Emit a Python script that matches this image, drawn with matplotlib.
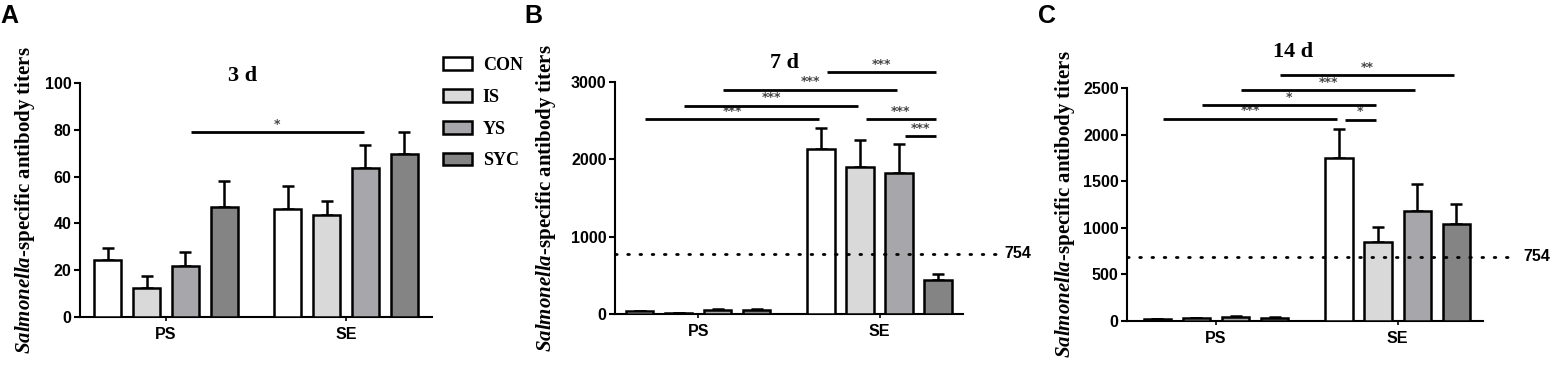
import matplotlib.pyplot as plt
import numpy as np
from matplotlib.patches import Patch

plt.rcParams['mathtext.fontset'] = 'custom'
plt.rcParams['mathtext.it'] = 'Liberation Serif:italic:bold'
plt.rcParams['mathtext.rm'] = 'Liberation Serif:bold'

groups = ['PS', 'SE']
treatments = ['CON', 'IS', 'YS', 'SYC']
colors = ['#ffffff', '#d9d9d9', '#a7a7ab', '#848484']

# panel A, 3 d
a_mean = [[24.3, 12.6, 21.9, 46.9], [46.0, 43.6, 63.6, 69.7]]
a_err = [[5.0, 4.8, 5.7, 11.2], [10.0, 6.0, 9.7, 9.2]]
a_sig = [(0, 2, 1, 2, 79, '*')]

# panel B, 7 d
b_mean = [[34, 13, 56, 56], [2140, 1895, 1818, 443]]
b_err = [[8, 4, 10, 10], [271, 357, 378, 77]]
b_sig = [(0, 0, 1, 0, 2518, '***'), (0, 1, 1, 1, 2694, '***'),
         (0, 2, 1, 2, 2901, '***'), (1, 0, 1, 3, 3128, '***'),
         (1, 1, 1, 3, 2518, '***'), (1, 2, 1, 3, 2299, '***')]
b_cut = 776

# panel C, 14 d
c_mean = [[20, 28, 43, 36], [1748, 852, 1182, 1042]]
c_err = [[5, 6, 8, 6], [311, 154, 290, 212]]
c_sig = [(0, 3, 1, 3, 2636, '**'), (0, 2, 1, 2, 2475, '***'),
         (0, 1, 1, 1, 2317, '*'), (0, 0, 1, 0, 2170, '***'),
         (1, 0, 1, 1, 2160, '*')]
c_cut = 687
cut_label = '754'

step = 0.215
width = 0.15
offsets = (np.arange(4) - 1.5) * step

fig = plt.figure(figsize=(15.53, 3.70), dpi=100)

def panel(rect, means, errs, sigs, ymax, yticks, xlim, title, title_xy,
          letter, letter_x, ylab_x, cut=None):
    ax = fig.add_axes(rect)
    for i, t in enumerate(treatments):
        xs = np.arange(2) + offsets[i]
        m = [means[0][i], means[1][i]]
        e = [errs[0][i], errs[1][i]]
        ax.errorbar(xs, m, yerr=[[0, 0], e], fmt='none', ecolor='black',
                    elinewidth=1.8, capsize=4.5, capthick=1.8, zorder=2)
        ax.bar(xs, m, width, color=colors[i], edgecolor='black',
               linewidth=1.8, zorder=3)
    for g1, b1, g2, b2, y, s in sigs:
        x1 = g1 + offsets[b1] + 0.03
        x2 = g2 + offsets[b2] - 0.01
        ax.plot([x1, x2], [y, y], color='black', lw=2, clip_on=False,
                solid_capstyle='butt', zorder=4)
        ax.text((x1 + x2) / 2, y + ymax * 0.006, s, ha='center', va='bottom',
                fontsize=9, color='#444444', fontweight='bold')
    if cut is not None:
        ax.plot([xlim[0], 1.64], [cut, cut], color='black', lw=2,
                linestyle=(0, (0.6, 3.8)), dash_capstyle='round',
                clip_on=False, zorder=5)
        ax.text(1.69, cut, cut_label, ha='left', va='center', fontsize=11.5,
                fontweight='bold', fontfamily='Liberation Sans')
    ax.set_xlim(*xlim)
    ax.set_ylim(0, ymax)
    ax.set_yticks(yticks)
    ax.set_xticks([0, 1])
    ax.set_xticklabels(groups)
    for lab in ax.get_xticklabels() + ax.get_yticklabels():
        lab.set_fontfamily('Liberation Sans')
        lab.set_fontweight('bold')
        lab.set_fontsize(11.5)
    ax.spines['top'].set_visible(False)
    ax.spines['right'].set_visible(False)
    ax.spines['left'].set_linewidth(1.5)
    ax.spines['bottom'].set_linewidth(1.5)
    ax.tick_params(axis='y', length=4, width=1.5, pad=2)
    ax.tick_params(axis='x', length=3, width=1.2, pad=4)
    ax.set_ylabel(r'$Salmonella$-specific antibody titers', fontsize=15,
                  fontfamily='Liberation Serif', fontweight='bold')
    ax.yaxis.set_label_coords(ylab_x, 0.5)
    fig.text(title_xy[0] / 1553, 1 - title_xy[1] / 370, title, ha='center',
             va='center', fontsize=16, fontweight='bold',
             fontfamily='Liberation Serif')
    fig.text(letter_x / 1553, 1 - 4 / 370, letter, ha='left', va='top',
             fontsize=18, fontweight='bold', fontfamily='Liberation Sans')
    return ax

panel([80 / 1553, 1 - 317 / 370, 352 / 1553, 234 / 370], a_mean, a_err,
      a_sig, 100, [0, 20, 40, 60, 80, 100], (-0.478, 1.478), '3 d',
      (243, 76), 'A', 0, -0.122)
panel([615 / 1553, 1 - 314 / 370, 348 / 1553, 232 / 370], b_mean, b_err,
      b_sig, 3000, [0, 1000, 2000, 3000], (-0.459, 1.46), '7 d',
      (785, 63), 'B', 524, -0.164, cut=b_cut)
panel([1127 / 1553, 1 - 321 / 370, 356 / 1553, 233 / 370], c_mean, c_err,
      c_sig, 2500, [0, 500, 1000, 1500, 2000, 2500], (-0.49, 1.47), '14 d',
      (1293, 52), 'C', 1038, -0.140, cut=c_cut)

handles = [Patch(facecolor=c, edgecolor='black', linewidth=1.8) for c in colors]
fig.legend(handles, treatments, loc='upper left',
           bbox_to_anchor=(443 / 1553, 1 - 57 / 370), frameon=False,
           borderpad=0, borderaxespad=0, handlelength=1.6, handleheight=0.7,
           handletextpad=0.6, labelspacing=0.82,
           prop={'family': 'Liberation Serif', 'weight': 'bold', 'size': 13})

fig.savefig('out.png', dpi=100)
